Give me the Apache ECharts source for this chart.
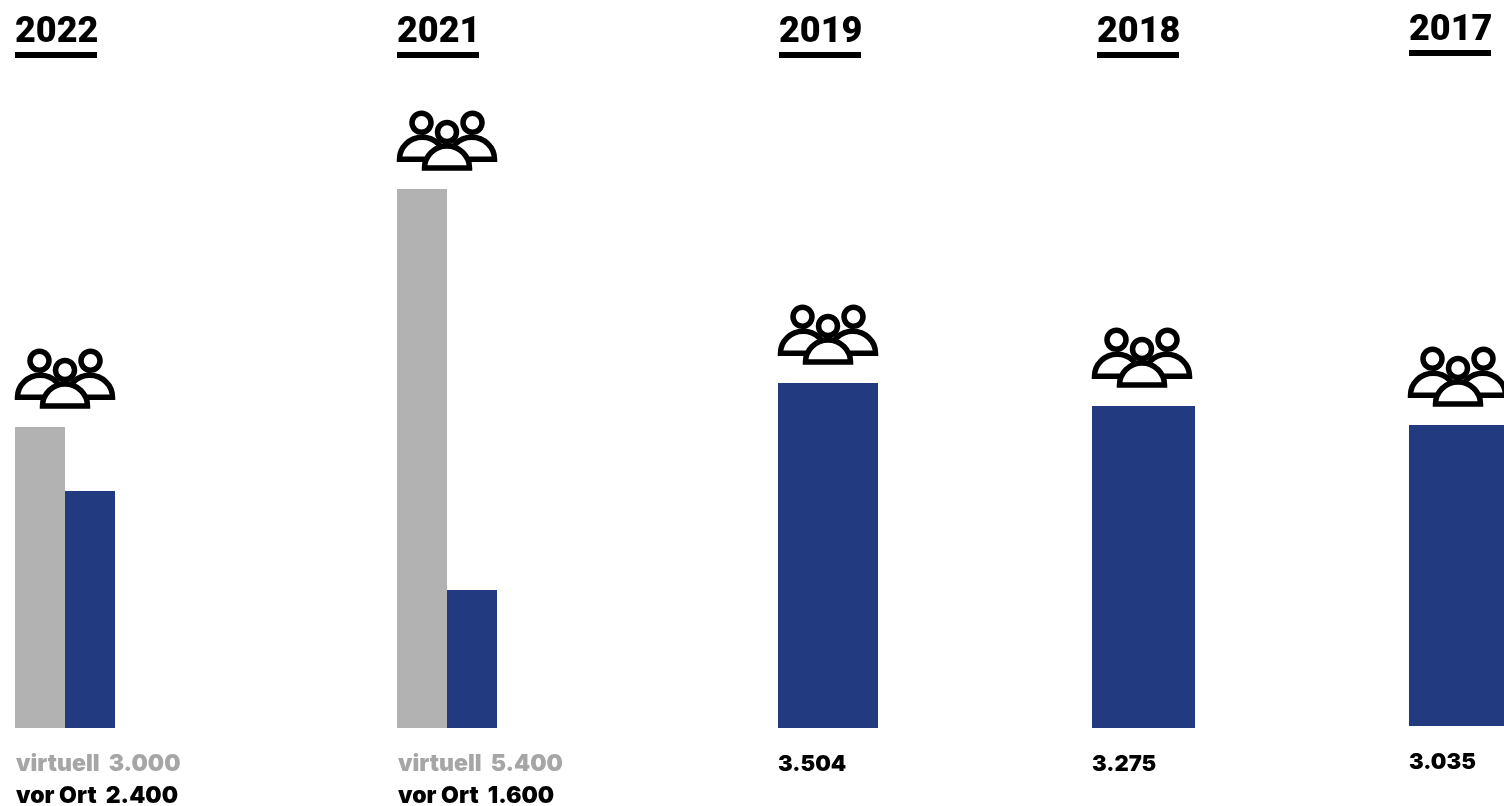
<!DOCTYPE html>
<html><head><meta charset="utf-8">
<style>html,body{margin:0;padding:0;background:#fff;overflow:hidden}#c{width:1504px;height:806px}</style>
<script src="https://cdn.jsdelivr.net/npm/echarts@6/dist/echarts.min.js"></script>
</head><body><div id="c"></div>
<script>
// Data. Bar heights as drawn (the source bars are not strictly proportional to their labels).
const years = ['2022','2021','2019','2018','2017'];
const virtuellBars = [3010,5390,null,null,null];
const vorOrtBars   = [2370,1380,3450,3220,3010];
const virtuellLabels = ['virtuell  3.000','virtuell  5.400',null,null,null];
const vorOrtLabels   = ['vor Ort  2.400','vor Ort  1.600','3.504','3.275','3.035'];

// Layout (style only)
const gridLeft  = [15,397,778,1092,1409];
const gridWidth = [100,100,100,103,95];
const gridBottomY = [728,728,728,728,726];
const titleLeft = [15,397,779,1097,1409];
const titleShift= [0,0,0,0,-2];
const iconShift = [0,0,0,-1.5,1.5];
const GRAY='#b2b2b2', BLUE='#213a80', LABELGRAY='#a6a6a6';
const PX_PER_UNIT = 0.1;

function circle(cx,cy,r){const k=r*0.5523;
  return `M${cx-r},${cy}C${cx-r},${cy-k} ${cx-k},${cy-r} ${cx},${cy-r}C${cx+k},${cy-r} ${cx+r},${cy-k} ${cx+r},${cy}C${cx+r},${cy+k} ${cx+k},${cy+r} ${cx},${cy+r}C${cx-k},${cy+r} ${cx-r},${cy+k} ${cx-r},${cy}Z`;}
function dome(x0,x1,base,top){const cx=(x0+x1)/2,rx=(x1-x0)/2,ry=base-top,kx=rx*0.5523,ky=ry*0.5523;
  return `M${x0},${base}C${x0},${base-ky} ${cx-kx},${top} ${cx},${top}C${cx+kx},${top} ${x1},${base-ky} ${x1},${base}Z`;}
const backPath  = 'path://'+dome(2.5,48,48,26)+dome(52,97.5,48,26)+circle(24.5,11.5,9.5)+circle(75.5,11.5,9.5);
const frontPath = 'path://'+dome(27.5,72.5,57,35)+circle(50,21,9.5);
const iconStyle = {color:'#fff',borderColor:'#000',borderWidth:5.5,opacity:1};

const grids=[],xAxes=[],yAxes=[],series=[],graphic=[];
years.forEach((y,i)=>{
  grids.push({left:gridLeft[i],width:gridWidth[i],top:0,height:gridBottomY[i],outerBoundsMode:'none'});
  xAxes.push({gridIndex:i,type:'category',data:[y],show:false});
  yAxes.push({gridIndex:i,type:'value',min:0,max:gridBottomY[i]/PX_PER_UNIT,show:false});
  const two = virtuellBars[i]!=null;
  if(two) series.push({type:'bar',name:'virtuell',xAxisIndex:i,yAxisIndex:i,data:[virtuellBars[i]],barWidth:'50%',barGap:0,itemStyle:{color:GRAY}});
  series.push({type:'bar',name:'vor Ort',xAxisIndex:i,yAxisIndex:i,data:[vorOrtBars[i]],barWidth:two?'50%':'100%',barGap:0,itemStyle:{color:BLUE}});
  const top=Math.max(virtuellBars[i]||0,vorOrtBars[i]);
  series.push({type:'scatter',xAxisIndex:i,yAxisIndex:i,data:[top],symbol:backPath,symbolKeepAspect:true,symbolSize:[95,95],symbolOffset:[iconShift[i]+(i===4?0:0),-52.75],itemStyle:iconStyle,z:5,silent:true,clip:false});
  series.push({type:'scatter',xAxisIndex:i,yAxisIndex:i,data:[top],symbol:frontPath,symbolKeepAspect:true,symbolSize:[45.5,45.5],symbolOffset:[iconShift[i],-43.75],itemStyle:iconStyle,z:6,silent:true,clip:false});
  const s=titleShift[i];
  graphic.push({type:'text',left:titleLeft[i],top:15+s,style:{text:y,font:'900 36px Roboto',fill:'#000'}});
  graphic.push({type:'rect',left:titleLeft[i],top:52+s,shape:{width:82,height:6},style:{fill:'#000'}});
  if(two) graphic.push({type:'text',left:gridLeft[i]+1,top:753,style:{text:virtuellLabels[i],font:'900 23px Inter',fill:LABELGRAY}});
  graphic.push({type:'text',left:gridLeft[i]+(two?1:0),top:two?785:753+s,style:{text:vorOrtLabels[i],font:(two?'900 23px':'900 22px')+' Inter',fill:'#000'}});
});
const chart=echarts.init(document.getElementById('c'),null,{renderer:'canvas'});
chart.setOption({animation:false,backgroundColor:'#fff',grid:grids,xAxis:xAxes,yAxis:yAxes,series,graphic});
</script></body></html>
